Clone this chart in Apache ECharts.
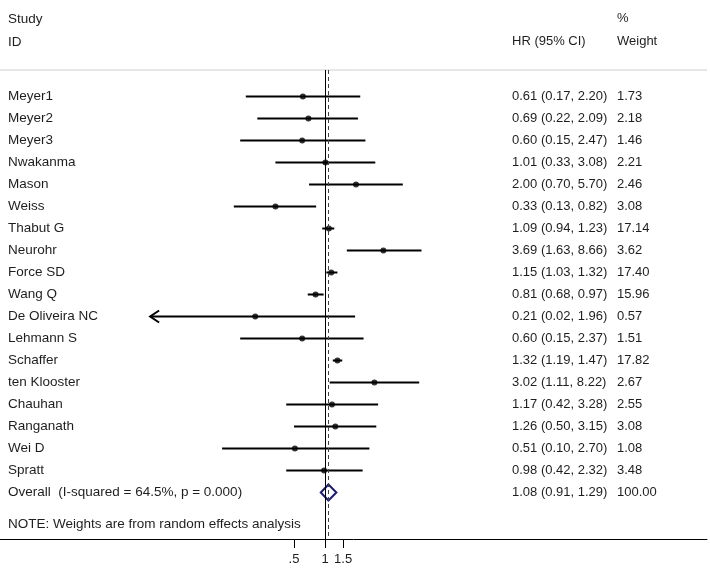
<!DOCTYPE html>
<html><head><meta charset="utf-8">
<script src="https://cdn.jsdelivr.net/npm/echarts@6/dist/echarts.min.js"></script>
<style>html,body{margin:0;padding:0;background:#fff}#c{width:710px;height:569px}</style>
</head><body><div id="c"></div>
<script>
// ---- data ----
const studies = ['Meyer1','Meyer2','Meyer3','Nwakanma','Mason','Weiss','Thabut G','Neurohr','Force SD','Wang Q','De Oliveira NC','Lehmann S','Schaffer','ten Klooster','Chauhan','Ranganath','Wei D','Spratt'];
const hr      = [0.61,0.69,0.60,1.01,2.00,0.33,1.09,3.69,1.15,0.81,0.21,0.60,1.32,3.02,1.17,1.26,0.51,0.98];
const ciLow   = [0.17,0.22,0.15,0.33,0.70,0.13,0.94,1.63,1.03,0.68,0.02,0.15,1.19,1.11,0.42,0.50,0.10,0.42];
const ciHigh  = [2.20,2.09,2.47,3.08,5.70,0.82,1.23,8.66,1.32,0.97,1.96,2.37,1.47,8.22,3.28,3.15,2.70,2.32];
const weights = [1.73,2.18,1.46,2.21,2.46,3.08,17.14,3.62,17.40,15.96,0.57,1.51,17.82,2.67,2.55,3.08,1.08,3.48];
const overallLabel = 'Overall  (I-squared = 64.5%, p = 0.000)';
const overallHR = [1.08];
const overallLow = [0.91];
const overallHigh = [1.29];
const overallWeight = [100.00];
const xTicks = [0.5, 1, 1.5];
const xTickLabels = ['.5', '1', '1.5'];
const noteText = 'NOTE: Weights are from random effects analysis';

// ---- layout ----
const FONT = '"Liberation Sans", Arial, sans-serif';
const FS = 13;
const FS_L = 13.5;
const TXT = '#1e1e1e';
const ROW_TOP = 96.5, ROW_H = 22, GRID_TOP = 70, AXIS_Y = 539, GRID_R = 3;
const PX_PER_LN = 44.7, X_ONE = 325;
const ARROW_BELOW = 0.05;

const names = studies.concat([overallLabel]);
const fmt2 = v => v.toFixed(2);
const hrText = hr.map((v,i)=>`${fmt2(v)} (${fmt2(ciLow[i])}, ${fmt2(ciHigh[i])})`)
  .concat([`${fmt2(overallHR[0])} (${fmt2(overallLow[0])}, ${fmt2(overallHigh[0])})`]);
const wText = weights.map(fmt2).concat([fmt2(overallWeight[0])]);
const rowIdx = names.map((_, i) => i);
const overallRow = studies.length;

const yMin = (GRID_TOP - ROW_TOP) / ROW_H;
const yMax = (AXIS_Y - ROW_TOP) / ROW_H;
const xMin = Math.exp(-X_ONE / PX_PER_LN);
const xMax = Math.exp((710 - GRID_R - X_ONE) / PX_PER_LN);

function yCol(offset, labels, fs) {
  return {
    type: 'value', position: 'left', offset: offset, inverse: true, min: yMin, max: yMax,
    axisLine: {show: false}, axisTick: {show: false}, splitLine: {show: false},
    axisLabel: {
      inside: true, margin: 8, align: 'left', customValues: rowIdx,
      formatter: v => labels[Math.round(v)] ?? '',
      color: TXT, fontFamily: FONT, fontSize: fs
    }
  };
}

const chart = echarts.init(document.getElementById('c'), null, {renderer: 'canvas'});
chart.setOption({
  animation: false,
  backgroundColor: '#fff',
  grid: {left: 0, right: GRID_R, top: GRID_TOP, bottom: 569 - AXIS_Y, containLabel: false},
  xAxis: {
    type: 'log', min: xMin, max: xMax,
    axisLine: {show: true, onZero: false, lineStyle: {color: '#000', width: 1}},
    axisTick: {show: true, customValues: xTicks, length: 9, lineStyle: {color: '#000', width: 1}},
    axisLabel: {
      customValues: xTicks, margin: 14, color: TXT, fontFamily: FONT, fontSize: FS,
      formatter: v => {
        let best = 0;
        xTicks.forEach((t, i) => { if (Math.abs(t - v) < Math.abs(xTicks[best] - v)) best = i; });
        return xTickLabels[best];
      }
    },
    splitLine: {show: false}, minorTick: {show: false}
  },
  yAxis: [yCol(0, names, FS_L), yCol(-504, hrText, FS), yCol(-609, wText, FS)],
  series: [
    {
      type: 'custom', silent: true, clip: false,
      data: studies.map((s, i) => [ciLow[i], ciHigh[i], i]),
      encode: {x: [0, 1], y: 2},
      renderItem(params, api) {
        const y = api.value(2);
        const p0 = api.coord([api.value(0), y]);
        const p1 = api.coord([api.value(1), y]);
        const children = [{type: 'line', shape: {x1: p0[0], y1: p0[1], x2: p1[0], y2: p1[1]},
          style: {stroke: '#000', lineWidth: 2}}];
        if (api.value(0) < ARROW_BELOW) {
          children.push({type: 'polyline',
            shape: {points: [[p0[0] + 9, p0[1] - 6], [p0[0], p0[1]], [p0[0] + 9, p0[1] + 6]]},
            style: {stroke: '#000', lineWidth: 2, fill: null}});
        }
        return {type: 'group', children};
      }
    },
    {
      type: 'scatter', silent: true, symbol: 'circle', symbolSize: 6,
      itemStyle: {color: '#000'},
      data: hr.map((v, i) => [v, i]),
      markLine: {
        silent: true, symbol: ['none', 'none'], label: {show: false},
        data: [
          {xAxis: 1, lineStyle: {type: 'solid', color: '#000', width: 1}},
          {xAxis: overallHR[0], lineStyle: {type: [4, 3], color: '#444', width: 1}}
        ]
      }
    },
    {
      type: 'custom', silent: true, clip: false,
      data: [[overallLow[0], overallHR[0], overallHigh[0], overallRow]],
      encode: {x: [0, 1, 2], y: 3},
      renderItem(params, api) {
        const y = api.value(3);
        const l = api.coord([api.value(0), y]);
        const c = api.coord([api.value(1), y]);
        const r = api.coord([api.value(2), y]);
        return {type: 'polygon',
          shape: {points: [[l[0], l[1]], [c[0], c[1] - 8], [r[0], r[1]], [c[0], c[1] + 8]]},
          style: {stroke: '#1c1c74', lineWidth: 2, fill: 'rgba(255,255,255,0)'}};
      }
    }
  ],
  graphic: [
    {type: 'text', left: 8, top: 12, style: {text: 'Study', font: `${FS_L}px ${FONT}`, fill: TXT}},
    {type: 'text', left: 8, top: 35, style: {text: 'ID', font: `${FS_L}px ${FONT}`, fill: TXT}},
    {type: 'text', left: 512, top: 35, style: {text: 'HR (95% CI)', font: `${FS}px ${FONT}`, fill: TXT}},
    {type: 'text', left: 617, top: 12, style: {text: '%', font: `${FS}px ${FONT}`, fill: TXT}},
    {type: 'text', left: 617, top: 35, style: {text: 'Weight', font: `${FS}px ${FONT}`, fill: TXT}},
    {type: 'line', shape: {x1: 0, y1: GRID_TOP, x2: 710 - GRID_R, y2: GRID_TOP}, style: {stroke: '#cfcfcf', lineWidth: 1}},
    {type: 'text', left: 8, top: 517, style: {text: noteText, font: `${FS_L}px ${FONT}`, fill: TXT}}
  ]
});
</script>
</body></html>
